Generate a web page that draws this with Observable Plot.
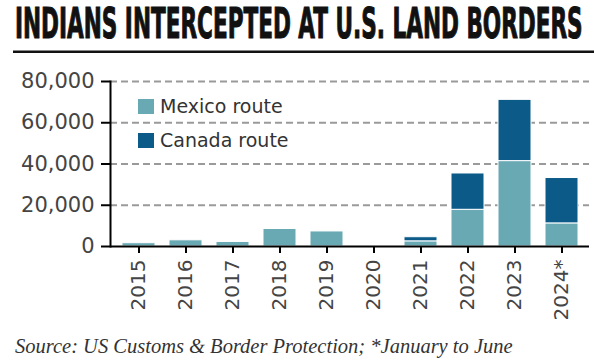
<!DOCTYPE html>
<html><head><meta charset="utf-8">
<script src="https://cdn.jsdelivr.net/npm/d3@7"></script>
<script src="https://cdn.jsdelivr.net/npm/@observablehq/plot@0.6"></script>
<style>
body{margin:0;background:#fff;}
#page{position:relative;width:594px;height:361px;overflow:hidden;background:#fff;}
#title{position:absolute;left:0;top:0;}
#chart{position:absolute;left:0;top:56px;}
#legend{position:absolute;left:138px;top:89px;font-family:"DejaVu Sans",sans-serif;font-size:19px;color:#333;}
#legend .row{display:flex;align-items:center;height:34px;}
#legend .sw{width:16px;height:15px;margin-right:6px;}
#caption{position:absolute;left:15px;top:336px;font-family:"Liberation Serif",serif;font-style:italic;font-size:20.5px;line-height:20px;color:#333;white-space:nowrap;}
</style></head><body>
<div id="page">
<svg id="title" width="594" height="56"></svg>
<div id="chart"></div>
<div id="legend"></div>
<div id="caption"></div>
</div>
<script>
const years = ["2015","2016","2017","2018","2019","2020","2021","2022","2023","2024*"];
const mexico = [1600, 3000, 2200, 8500, 7300, 0, 2500, 17800, 41400, 11200];
const canada = [0, 0, 0, 0, 0, 0, 2000, 17600, 29700, 22000];
const seriesNames = ["Mexico route", "Canada route"];
const seriesColors = ["#68a9b4", "#0b5a88"];
const yTicks = [0, 20000, 40000, 60000, 80000];
const gridTicks = [20000, 40000, 60000, 80000];
const titleText = "INDIANS INTERCEPTED AT U.S. LAND BORDERS";
const sourceText = "Source: US Customs & Border Protection; *January to June";

const rows = years.flatMap((y, i) => [
  {year: y, route: seriesNames[0], value: mexico[i]},
  {year: y, route: seriesNames[1], value: canada[i]}
]).filter(d => d.value > 0);

// Title: fit width 568 with condensed font, scale vertically for cap height
const ts = d3.select("#title");
const tg = ts.append("g");
const tt = tg.append("text")
  .attr("x", 0).attr("y", 0)
  .attr("font-family", "'Liberation Sans Narrow', 'DejaVu Sans Condensed', sans-serif")
  .attr("font-weight", "bold")
  .attr("font-size", 42)
  .attr("fill", "#111")
  .attr("stroke", "#111").attr("stroke-width", 0.6)
  .text(titleText);
const natural = tt.node().getComputedTextLength();
const fs = 42 * 568 / natural;
tt.attr("font-size", fs);
tg.attr("transform", `translate(15,38) scale(1,${42 / fs})`);
ts.append("rect").attr("x", 13).attr("y", 50.5).attr("width", 581).attr("height", 2.5).attr("fill", "#111");

const chart = Plot.plot({
  width: 594,
  height: 275,
  marginTop: 25,
  marginBottom: 85,
  marginLeft: 110,
  marginRight: 5,
  style: {fontFamily: "DejaVu Sans, sans-serif", fontSize: "20px", color: "#000", background: "transparent"},
  x: {domain: years, paddingInner: 0.3, paddingOuter: 0.15, label: null},
  y: {domain: [0, 80000], label: null},
  color: {domain: seriesNames, range: seriesColors},
  marks: [
    Plot.ruleY(gridTicks, {stroke: "#9a9a9a", strokeWidth: 1.8, strokeDasharray: "7,4"}),
    Plot.barY(rows, {x: "year", y: "value", fill: "route", stroke: "#fff", strokeWidth: 1, order: seriesNames}),
    Plot.axisY({ticks: yTicks, tickSize: 9, tickPadding: 7, fill: "#444", stroke: "#000", strokeWidth: 2, fontSize: 21, label: null}),
    Plot.axisX({tickSize: 7, tickPadding: 6, tickRotate: -90, fill: "#444", stroke: "#000", strokeWidth: 2, fontSize: 20, label: null}),
    Plot.ruleY([0], {stroke: "#000", strokeWidth: 2}),
    Plot.frame({anchor: "left", stroke: "#000", strokeWidth: 2})
  ]
});
document.getElementById("chart").appendChild(chart);

// Legend
const lg = d3.select("#legend");
seriesNames.forEach((n, i) => {
  const r = lg.append("div").attr("class", "row");
  r.append("div").attr("class", "sw").style("background", seriesColors[i]);
  r.append("span").text(n);
});

document.getElementById("caption").textContent = sourceText;
</script>
</body></html>
